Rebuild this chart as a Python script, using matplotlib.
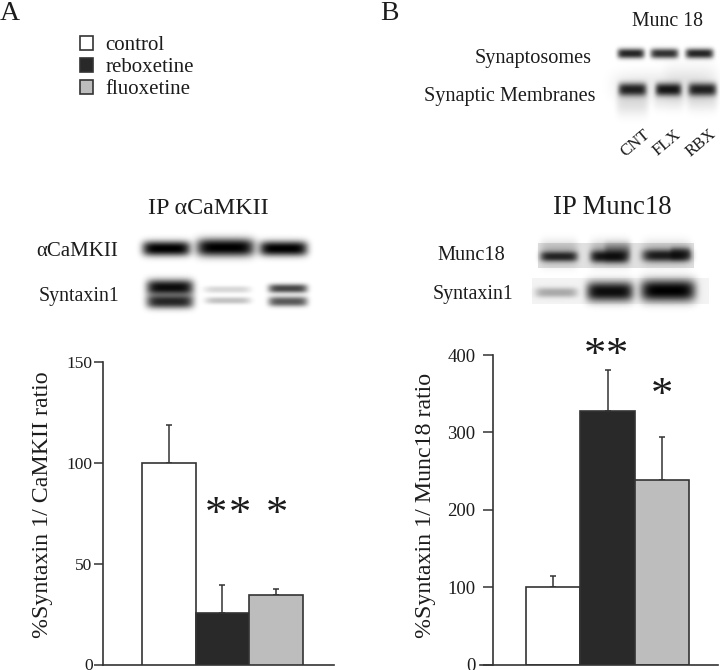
import matplotlib
matplotlib.use("Agg")
import matplotlib.pyplot as plt
import numpy as np

plt.rcParams['font.family'] = ['Liberation Serif', 'DejaVu Serif']

W, H = 720, 670
INK = '#1c1c1c'

# Bar chart values
groups = ['control', 'reboxetine', 'fluoxetine']
bar_colors = ['#ffffff', '#292929', '#bdbdbd']

camkii_values = [100, 25.5, 34.5]
camkii_err = [19, 14, 3]
camkii_ticks = [0, 50, 100, 150]

munc_values = [100, 327, 238]
munc_err = [15, 53, 56]
munc_ticks = [0, 100, 200, 300, 400]

# Blot bands: x0, x1, y, half height, darkness (picture pixels)
blot_camkii = [(142, 190, 248, 7.5, 1.0), (196, 254, 247, 9, 1.0), (259, 307, 248, 7.5, 1.0)]
blot_syntaxin_a = [(146, 193, 287, 8, 0.95), (146, 193, 301, 7, 0.85),
                   (204, 250, 289, 3.5, 0.16), (205, 250, 300, 3.5, 0.24),
                   (268, 307, 288, 4.5, 0.72), (268, 307, 301, 5, 0.65)]
blot_munc_top = [(617, 644, 53, 5, 0.85), (650, 678, 53, 5, 0.8), (685, 713, 53, 5, 0.85),
                 (618, 646, 89, 6.5, 0.85), (655, 681, 89, 6.5, 0.9), (688, 716, 89, 6.5, 0.85),
                 (616, 648, 100, 14, 0.13), (653, 683, 98, 11, 0.08), (687, 717, 98, 12, 0.1),
                 (664, 716, 82, 20, 0.05), (612, 716, 85, 14, 0.08)]
blot_munc18 = [(540, 577, 256, 5, 0.8), (590, 627, 256, 6, 0.88), (642, 690, 255, 6, 0.85),
               (604, 630, 252, 9, 0.4), (670, 690, 253, 6, 0.5),
               (540, 577, 253, 12, 0.22), (590, 630, 253, 12, 0.25), (642, 690, 253, 12, 0.2)]
blot_syntaxin_b = [(535, 577, 292, 5, 0.3), (586, 633, 291, 10, 0.95), (640, 695, 290, 11, 1.0)]
# Grey backing of the blots: x0, x1, y0, y1, darkness
blot_backs = [(538, 693, 243, 267, 0.12), (532, 708, 278, 303, 0.05)]


def px_axes(fig, x0, x1, y0, y1):
    return fig.add_axes([x0 / W, 1 - y1 / H, (x1 - x0) / W, (y1 - y0) / H])


def draw_blots():
    yy, xx = np.mgrid[0:H, 0:W]
    light = np.ones((H, W))
    for x0, x1, y0, y1, d in blot_backs:
        mask = (xx >= x0) & (xx <= x1) & (yy >= y0) & (yy <= y1)
        light[mask] *= 1 - d
    bands = blot_camkii + blot_syntaxin_a + blot_munc_top + blot_munc18 + blot_syntaxin_b
    for x0, x1, y, hh, d in bands:
        cx = (x0 + x1) / 2
        hw = (x1 - x0) / 2
        shape = np.exp(-np.abs((xx - cx) / hw) ** 6) * np.exp(-np.abs((yy - y) / hh) ** 2.4)
        light *= 1 - d * shape
    return light


def bar_panel(ax, values, err, ticks, ymax, spine_x, tick_len, pad, tick_size):
    xs = np.arange(len(values))
    bars = ax.bar(xs, values, width=1.0, color=bar_colors, edgecolor='#333333', linewidth=1.2, zorder=3)
    ax.errorbar(xs, values, yerr=[[0] * len(err), err], fmt='none', ecolor='#333333',
                elinewidth=1.1, capsize=2, capthick=1.1, zorder=2)
    ax.set_ylim(0, ymax)
    ax.set_yticks(ticks)
    ax.set_xticks([])
    ax.patch.set_alpha(0)
    for side in ['top', 'right']:
        ax.spines[side].set_visible(False)
    for side in ['left', 'bottom']:
        ax.spines[side].set_linewidth(1.2)
        ax.spines[side].set_color('#333333')
    ax.spines['left'].set_position(('data', spine_x))
    ax.tick_params(axis='y', length=tick_len, width=1.1, color='#333333', pad=pad,
                   labelsize=tick_size, labelcolor=INK)
    return bars


fig = plt.figure(figsize=(W / 100, H / 100), dpi=100)

# Full page layer for the blots and the free text
bg = fig.add_axes([0, 0, 1, 1])
bg.imshow(draw_blots(), cmap='gray', vmin=0, vmax=1, extent=(0, W, H, 0), aspect='auto', interpolation='bilinear')
bg.set_xlim(0, W)
bg.set_ylim(H, 0)
bg.axis('off')


def label(x, y, s, size=12, ha='left', **kw):
    bg.text(x, y, s, fontsize=size, ha=ha, va='center', color=INK, **kw)


label(0, 13, 'A', size=20)
label(380, 13, 'B', size=20)
label(208, 208, 'IP αCaMKII', size=17.3, ha='center')
label(118, 252, 'αCaMKII', size=15, ha='right')
label(119, 296, 'Syntaxin1', size=14.3, ha='right')
label(667, 22, 'Munc 18', size=14.3, ha='center')
label(592, 58, 'Synaptosomes', size=14.6, ha='right')
label(596, 96, 'Synaptic Membranes', size=14.6, ha='right')
for x, s in zip([635, 667, 701], ['CNT', 'FLX', 'RBX']):
    label(x, 143, s, size=12, ha='center', rotation=40)
label(612, 207, 'IP Munc18', size=19.3, ha='center')
label(505, 256, 'Munc18', size=14.7, ha='right')
label(513, 294, 'Syntaxin1', size=14.3, ha='right')
label(43, 505, '%Syntaxin 1/ CaMKII ratio', size=17.2, ha='center', rotation=90)
label(425, 505, '%Syntaxin 1/ Munc18 ratio', size=17.2, ha='center', rotation=90)

# Significance stars
for x, y in [(216, 515), (240, 515), (277, 515), (595, 356), (617, 356), (662, 396)]:
    bg.text(x, y, '*', fontsize=32, ha='center', va='center', color=INK)

# Panel A
ax_a = px_axes(fig, 103, 334, 362, 664.5)
bars_a = bar_panel(ax_a, camkii_values, camkii_err, camkii_ticks, 150, -1.226, 6.5, 1, 12.5)
ax_a.set_xlim(-1.226, 3.077)

# Panel B
ax_b = px_axes(fig, 480, 718, 355, 664.5)
bar_panel(ax_b, munc_values, munc_err, munc_ticks, 400, -1.108, 7.5, 5, 13.5)
ax_b.set_xlim(-1.347, 3.034)
ax_b.spines['bottom'].set_zorder(5)

fig.legend(bars_a.patches, groups, loc='upper left', bbox_to_anchor=(61 / W, 1 - 17.5 / H),
           frameon=False, fontsize=15, handlelength=0.63, handleheight=0.63,
           handletextpad=0.6, labelspacing=0.13, labelcolor=INK)

fig.savefig('out.png', dpi=100)
